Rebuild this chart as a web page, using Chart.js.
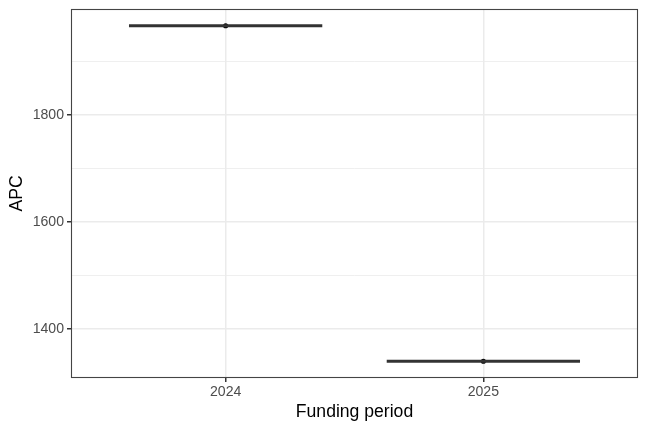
<!DOCTYPE html>
<html><head><meta charset="utf-8">
<script src="https://cdn.jsdelivr.net/npm/chart.js@4.4.1/dist/chart.umd.min.js"></script>
<style>html,body{margin:0;padding:0;background:#fff}#wrap{width:648px;height:432px}</style>
</head><body><div id="wrap"><canvas id="c" width="648" height="432"></canvas></div>
<script>
const categories = ['2024', '2025'];
const apc = [1966, 1340];
const yTicks = [1400, 1500, 1600, 1700, 1800, 1900];
const yLabelled = [1400, 1600, 1800];

const boxHalf = 0.375;
const yMin = Math.min(...apc), yMax = Math.max(...apc);
const pad = (yMax - yMin) * 0.05;

const datasets = [];
categories.forEach((c, i) => {
  datasets.push({
    type: 'line',
    data: [{x: i + 1 - boxHalf, y: apc[i]}, {x: i + 1 + boxHalf, y: apc[i]}],
    borderColor: '#333333', borderWidth: 2.8, pointRadius: 0, borderCapStyle: 'butt'
  });
});
datasets.push({
  type: 'scatter',
  data: categories.map((c, i) => ({x: i + 1, y: apc[i]})),
  backgroundColor: '#000', borderColor: '#000', pointRadius: 2.6, borderWidth: 0
});

const borderPlugin = {
  id: 'panelBorder',
  afterDatasetsDraw(chart) {
    const a = chart.chartArea, ctx = chart.ctx;
    ctx.save();
    ctx.strokeStyle = '#444444';
    ctx.lineWidth = 1.1;
    ctx.strokeRect(Math.round(a.left) + 0.5, Math.round(a.top) + 0.5, Math.round(a.right - a.left) - 1, Math.round(a.bottom - a.top) - 1);
    ctx.restore();
  }
};

new Chart(document.getElementById('c'), {
  data: { datasets },
  options: {
    responsive: false, animation: false,
    layout: { padding: { left: 0, right: 10, top: 9, bottom: 0 } },
    plugins: { legend: { display: false }, tooltip: { enabled: false } },
    scales: {
      x: {
        type: 'linear', min: 0.4, max: 2.6,
        afterBuildTicks(s) { s.ticks = categories.map((c, i) => ({ value: i + 1 })); },
        afterFit(s) { s.height = 54; s.paddingLeft = 0; s.paddingRight = 0; },
        ticks: {
          callback: (v) => categories[Math.round(v) - 1],
          color: '#4D4D4D', font: { family: 'Liberation Sans', size: 14.1 }, padding: 2, maxRotation: 0
        },
        grid: { color: '#EBEBEB', lineWidth: 1.5, tickColor: '#333333', tickLength: 4 },
        border: { display: false },
        title: { display: true, text: 'Funding period', color: '#000', font: { family: 'Liberation Sans', size: 17.6 }, padding: { top: 0, bottom: 9.5 } }
      },
      y: {
        type: 'linear', min: yMin - pad, max: yMax + pad,
        afterBuildTicks(s) { s.ticks = yTicks.map(v => ({ value: v })); },
        afterFit(s) { s.width = 71; s.paddingTop = 0; s.paddingBottom = 0; },
        ticks: {
          callback: (v) => yLabelled.includes(v) ? String(v) : '',
          color: '#4D4D4D', font: { family: 'Liberation Sans', size: 14.1 }, padding: 3
        },
        grid: {
          color: '#EBEBEB',
          lineWidth: (ctx) => yLabelled.includes(ctx.tick && ctx.tick.value) ? 1.5 : 0.8,
          tickColor: (ctx) => yLabelled.includes(ctx.tick && ctx.tick.value) ? '#333333' : 'rgba(0,0,0,0)',
          tickLength: 4
        },
        border: { display: false },
        title: { display: true, text: 'APC', color: '#000', font: { family: 'Liberation Sans', size: 17.6 }, padding: { top: 7, bottom: 0 } }
      }
    }
  },
  plugins: [borderPlugin]
});
</script></body></html>
